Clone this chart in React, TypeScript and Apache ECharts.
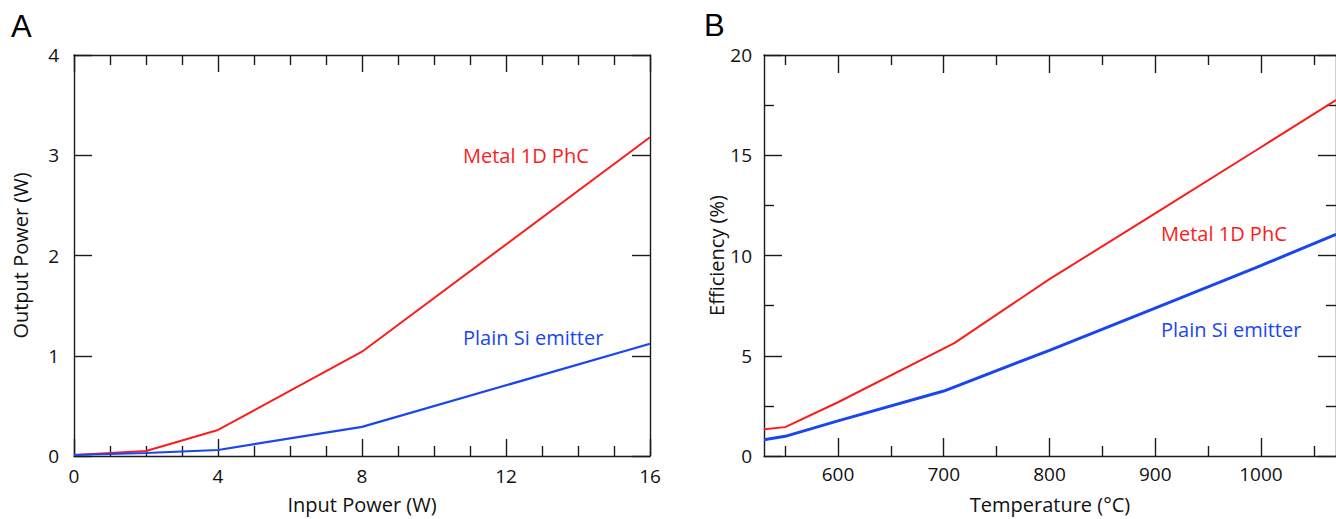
import { useEffect, useRef } from "react";
import * as echarts from "echarts";

// Panel A: output power vs input power
const inputPower = [0, 2, 4, 8, 16];
const outputMetal = [0.01, 0.05, 0.26, 1.04, 3.18];
const outputPlain = [0.01, 0.03, 0.06, 0.29, 1.12];

// Panel B: efficiency vs temperature
const tempMetal = [530, 550, 600, 710, 800, 900, 1000, 1071];
const effMetal = [1.34, 1.44, 2.68, 5.63, 8.82, 12.1, 15.4, 17.75];
const tempPlain = [530, 550, 600, 700, 800, 900, 1000, 1071];
const effPlain = [0.81, 0.98, 1.75, 3.24, 5.27, 7.38, 9.5, 11.05];

const tempMajorTicks = [600, 700, 800, 900, 1000];
const tempMinorTicks = [550, 650, 750, 850, 950, 1050];

const seriesNames = ["Metal 1D PhC", "Plain Si emitter"];

const RED = "#fb1c1c";
const BLUE = "#1a46f2";
const AXIS = "#1a1a1a";
const FONT = "Open Sans";

const axisLine = { show: true, onZero: false, lineStyle: { color: AXIS, width: 1.4 } };
const noLine = { show: false, onZero: false };
const tickStyle = { color: AXIS, width: 1.4 };
const labelStyle = { color: "#111", fontSize: 19, fontFamily: FONT, formatter: (v: number) => String(v) };
const nameStyle = { color: "#111", fontSize: 20, fontFamily: FONT };

export default function App() {
  const ref = useRef<HTMLDivElement>(null);
  useEffect(() => {
    if (!ref.current) return;
    const chart = echarts.init(ref.current, undefined, { renderer: "svg" });
    const option: any = {
      animation: false,
      backgroundColor: "#ffffff",
      grid: [
        { left: 74, top: 55, width: 576, height: 404 },
        { left: 764, top: 55, right: -6, height: 403 },
      ],
      xAxis: [
        {
          type: "value", gridIndex: 0, position: "bottom", min: 0, max: 16, interval: 4,
          axisLine, splitLine: { show: false },
          axisTick: { show: true, inside: true, length: 17, lineStyle: tickStyle },
          minorTick: { show: true, splitNumber: 4, length: 10, lineStyle: tickStyle },
          axisLabel: { ...labelStyle, margin: 10 },
          name: "Input Power (W)", nameLocation: "middle", nameGap: 38, nameTextStyle: nameStyle,
        },
        {
          type: "value", gridIndex: 0, position: "top", min: 0, max: 16, interval: 4,
          axisLine, splitLine: { show: false },
          axisTick: { show: true, inside: true, length: 17, lineStyle: tickStyle },
          minorTick: { show: true, splitNumber: 4, length: 10, lineStyle: tickStyle },
          axisLabel: { show: false },
        },
        {
          type: "value", gridIndex: 1, position: "bottom", min: 530, max: 1071,
          axisLine, splitLine: { show: false },
          axisTick: { show: true, inside: true, length: 18, lineStyle: tickStyle, customValues: tempMajorTicks },
          axisLabel: { ...labelStyle, margin: 8, customValues: tempMajorTicks },
          name: "Temperature (\u00b0C)", nameLocation: "middle", nameGap: 38, nameTextStyle: nameStyle,
        },
        {
          type: "value", gridIndex: 1, position: "bottom", min: 530, max: 1071,
          axisLine: noLine, splitLine: { show: false },
          axisTick: { show: true, inside: true, length: 10, lineStyle: tickStyle, customValues: tempMinorTicks },
          axisLabel: { show: false },
        },
        {
          type: "value", gridIndex: 1, position: "top", min: 530, max: 1071,
          axisLine, splitLine: { show: false },
          axisTick: { show: true, inside: true, length: 18, lineStyle: tickStyle, customValues: tempMajorTicks },
          axisLabel: { show: false },
        },
        {
          type: "value", gridIndex: 1, position: "top", min: 530, max: 1071,
          axisLine: noLine, splitLine: { show: false },
          axisTick: { show: true, inside: true, length: 10, lineStyle: tickStyle, customValues: tempMinorTicks },
          axisLabel: { show: false },
        },
      ],
      yAxis: [
        {
          type: "value", gridIndex: 0, position: "left", min: 0, max: 4, interval: 1,
          axisLine, splitLine: { show: false },
          axisTick: { show: true, inside: true, length: 18, lineStyle: tickStyle },
          axisLabel: { ...labelStyle, margin: 15 },
          name: "Output Power (W)", nameLocation: "middle", nameGap: 44, nameTextStyle: nameStyle,
        },
        {
          type: "value", gridIndex: 0, position: "right", min: 0, max: 4, interval: 1,
          axisLine, splitLine: { show: false },
          axisTick: { show: true, inside: true, length: 18, lineStyle: tickStyle },
          axisLabel: { show: false },
        },
        {
          type: "value", gridIndex: 1, position: "left", min: 0, max: 20, interval: 5,
          axisLine, splitLine: { show: false },
          axisTick: { show: true, inside: true, length: 18, lineStyle: tickStyle },
          minorTick: { show: true, splitNumber: 2, length: 10, lineStyle: tickStyle },
          axisLabel: { ...labelStyle, margin: 12 },
          name: "Efficiency (%)", nameLocation: "middle", nameGap: 37, nameTextStyle: nameStyle,
        },
        {
          type: "value", gridIndex: 1, position: "right", min: 0, max: 20, interval: 5,
          axisLine, splitLine: { show: false },
          axisTick: { show: true, inside: true, length: 18, lineStyle: tickStyle },
          minorTick: { show: true, splitNumber: 2, length: 10, lineStyle: tickStyle },
          axisLabel: { show: false },
        },
      ],
      series: [
        {
          name: seriesNames[0], type: "line", xAxisIndex: 0, yAxisIndex: 0, symbol: "none",
          lineStyle: { color: RED, width: 2 },
          data: inputPower.map((x, i) => [x, outputMetal[i]]),
        },
        {
          name: seriesNames[1], type: "line", xAxisIndex: 0, yAxisIndex: 0, symbol: "none",
          lineStyle: { color: BLUE, width: 2.2 },
          data: inputPower.map((x, i) => [x, outputPlain[i]]),
        },
        {
          name: seriesNames[0], type: "line", xAxisIndex: 2, yAxisIndex: 2, symbol: "none",
          lineStyle: { color: RED, width: 2 },
          data: tempMetal.map((x, i) => [x, effMetal[i]]),
        },
        {
          name: seriesNames[1], type: "line", xAxisIndex: 2, yAxisIndex: 2, symbol: "none",
          lineStyle: { color: BLUE, width: 3 },
          data: tempPlain.map((x, i) => [x, effPlain[i]]),
        },
      ],
      graphic: [
        { type: "text", left: 11, top: 11, style: { text: "A", fill: "#000", fontSize: 31, fontFamily: "Liberation Sans" } },
        { type: "text", left: 704, top: 10, style: { text: "B", fill: "#000", fontSize: 31, fontFamily: "Liberation Sans" } },
        { type: "text", x: 463, y: 155, style: { text: seriesNames[0], fill: RED, fontSize: 20, fontFamily: FONT, verticalAlign: "middle" } },
        { type: "text", x: 463, y: 337, style: { text: seriesNames[1], fill: BLUE, fontSize: 20, fontFamily: FONT, verticalAlign: "middle" } },
        { type: "text", x: 1161, y: 233, style: { text: seriesNames[0], fill: RED, fontSize: 20, fontFamily: FONT, verticalAlign: "middle" } },
        { type: "text", x: 1161, y: 329, style: { text: seriesNames[1], fill: BLUE, fontSize: 20, fontFamily: FONT, verticalAlign: "middle" } },
      ],
    };
    chart.setOption(option);
    return () => chart.dispose();
  }, []);
  return (
    <div
      ref={ref}
      style={{ position: "absolute", left: 0, top: 0, width: 1336, height: 519, background: "#fff" }}
    />
  );
}
